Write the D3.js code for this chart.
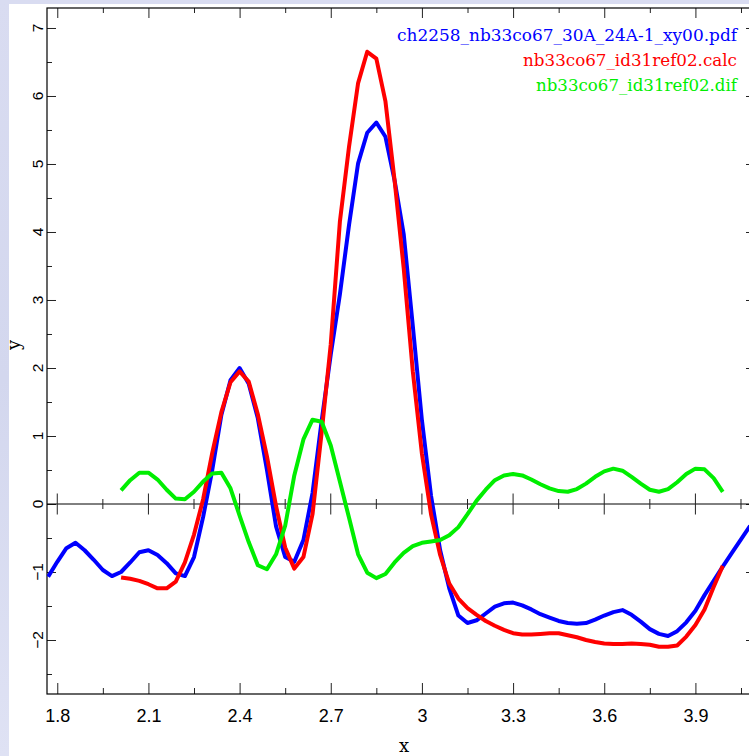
<!DOCTYPE html>
<html><head><meta charset="utf-8">
<script src="https://cdn.jsdelivr.net/npm/d3@7"></script>
<style>body{margin:0;background:#fff}svg{display:block}</style>
</head><body>
<script>
// ---- data ----
const xBlue = [1.77,1.80,1.83,1.86,1.89,1.92,1.95,1.98,2.01,2.04,2.07,2.10,2.13,2.16,2.19,2.22,2.25,2.28,2.31,2.34,2.37,2.40,2.43,2.46,2.49,2.52,2.55,2.58,2.61,2.64,2.67,2.70,2.73,2.76,2.79,2.82,2.85,2.88,2.91,2.94,2.97,3.00,3.03,3.06,3.09,3.12,3.15,3.18,3.21,3.24,3.27,3.30,3.33,3.36,3.39,3.42,3.45,3.48,3.51,3.54,3.57,3.60,3.63,3.66,3.69,3.72,3.75,3.78,3.81,3.84,3.87,3.90,3.93,3.96,3.99,4.02,4.05,4.08];
const yBlue = [-1.07,-0.85,-0.65,-0.57,-0.68,-0.82,-0.97,-1.06,-1.00,-0.86,-0.71,-0.68,-0.75,-0.87,-1.02,-1.06,-0.78,-0.19,0.50,1.31,1.82,2.00,1.77,1.26,0.50,-0.33,-0.78,-0.85,-0.53,0.16,1.22,2.20,3.08,4.10,5.01,5.46,5.61,5.40,4.76,3.97,2.62,1.23,0.12,-0.68,-1.24,-1.64,-1.75,-1.71,-1.61,-1.51,-1.46,-1.45,-1.49,-1.55,-1.62,-1.67,-1.72,-1.75,-1.76,-1.75,-1.70,-1.64,-1.59,-1.56,-1.63,-1.73,-1.84,-1.91,-1.94,-1.87,-1.74,-1.57,-1.34,-1.13,-0.92,-0.72,-0.52,-0.32];
const xCalc = [2.01,2.04,2.07,2.10,2.13,2.16,2.19,2.22,2.25,2.28,2.31,2.34,2.37,2.40,2.43,2.46,2.49,2.52,2.55,2.58,2.61,2.64,2.67,2.70,2.73,2.76,2.79,2.82,2.85,2.88,2.91,2.94,2.97,3.00,3.03,3.06,3.09,3.12,3.15,3.18,3.21,3.24,3.27,3.30,3.33,3.36,3.39,3.42,3.45,3.48,3.51,3.54,3.57,3.60,3.63,3.66,3.69,3.72,3.75,3.78,3.81,3.84,3.87,3.90,3.93,3.96,3.99];
const yCalc = [-1.08,-1.10,-1.13,-1.18,-1.24,-1.24,-1.14,-0.86,-0.45,0.07,0.75,1.35,1.79,1.95,1.80,1.32,0.70,-0.03,-0.64,-0.95,-0.78,-0.15,1.05,2.35,4.15,5.25,6.19,6.65,6.55,5.92,4.76,3.47,1.95,0.74,-0.15,-0.75,-1.17,-1.39,-1.53,-1.63,-1.72,-1.79,-1.85,-1.90,-1.92,-1.92,-1.91,-1.90,-1.90,-1.93,-1.96,-2.00,-2.03,-2.05,-2.06,-2.06,-2.05,-2.06,-2.07,-2.10,-2.10,-2.08,-1.95,-1.78,-1.55,-1.22,-0.91];
const yDif = [0.20,0.35,0.46,0.46,0.36,0.21,0.08,0.07,0.18,0.33,0.45,0.46,0.23,-0.17,-0.56,-0.90,-0.96,-0.74,-0.32,0.42,0.95,1.24,1.21,0.86,0.33,-0.20,-0.74,-1.01,-1.09,-1.03,-0.86,-0.72,-0.62,-0.57,-0.55,-0.53,-0.46,-0.34,-0.15,0.05,0.21,0.35,0.42,0.44,0.42,0.36,0.29,0.23,0.19,0.18,0.22,0.30,0.40,0.48,0.52,0.49,0.40,0.30,0.21,0.18,0.22,0.32,0.44,0.52,0.51,0.38,0.18];
const seriesNames = ["ch2258_nb33co67_30A_24A-1_xy00.pdf","nb33co67_id31ref02.calc","nb33co67_id31ref02.dif"];
const seriesColors = ["#0000ff","#ff0000","#00ee00"];
const xMajor = [1.8,2.1,2.4,2.7,3.0,3.3,3.6,3.9];
const xMinor = [1.95,2.25,2.55,2.85,3.15,3.45,3.75,4.05];
const yMajor = [-2,-1,0,1,2,3,4,5,6,7];
const yMinor = [-2.5,-1.5,-0.5,0.5,1.5,2.5,3.5,4.5,5.5,6.5];

// ---- layout ----
const W=749,H=756, L=47, R=755, T=8, B=694;
const x = d3.scaleLinear().domain([1.7662,4.0961]).range([L,R]);
const y = d3.scaleLinear().domain([-2.794,7.294]).range([B,T]);

const svg = d3.select("body").append("svg").attr("width",W).attr("height",H);
const defs = svg.append("defs");
const g = defs.append("linearGradient").attr("id","bg").attr("x1",0).attr("y1",0).attr("x2",0).attr("y2",1);
g.append("stop").attr("offset","0").attr("stop-color","#d9dcf1");
g.append("stop").attr("offset","0.5").attr("stop-color","#d3d7ee");
g.append("stop").attr("offset","1").attr("stop-color","#dfe2f4");
svg.append("rect").attr("width",W).attr("height",H).attr("fill","url(#bg)");
svg.append("rect").attr("x",9).attr("y",4).attr("width",W-9).attr("height",H-4).attr("fill","#fff");
defs.append("clipPath").attr("id","clip").append("rect").attr("x",L).attr("y",T).attr("width",R-L).attr("height",B-T);

const fmt = d => String(+d.toFixed(1));
const tickStyle = sel => { sel.select(".domain").remove(); sel.selectAll("line").attr("stroke","#222").attr("stroke-width",1); };

// bottom
svg.append("g").attr("transform",`translate(0,${B})`)
  .call(d3.axisBottom(x).tickValues(xMajor).tickSize(-11).tickPadding(15).tickFormat(fmt))
  .call(tickStyle)
  .call(s=>s.selectAll("text").attr("font-family","Liberation Sans, Arial, sans-serif").attr("font-size",18).attr("fill","#000"));
svg.append("g").attr("transform",`translate(0,${B})`)
  .call(d3.axisBottom(x).tickValues(xMinor).tickSize(-6).tickFormat(""))
  .call(tickStyle);
// top
svg.append("g").attr("transform",`translate(0,${T})`)
  .call(d3.axisTop(x).tickValues(xMajor).tickSize(-10).tickFormat("")).call(tickStyle);
svg.append("g").attr("transform",`translate(0,${T})`)
  .call(d3.axisTop(x).tickValues(xMinor).tickSize(-5).tickFormat("")).call(tickStyle);
// left
svg.append("g").attr("transform",`translate(${L},0)`)
  .call(d3.axisLeft(y).tickValues(yMajor).tickSize(-9).tickFormat("")).call(tickStyle);
svg.append("g").attr("transform",`translate(${L},0)`)
  .call(d3.axisLeft(y).tickValues(yMinor).tickSize(-5).tickFormat("")).call(tickStyle);
// right
svg.append("g").attr("transform",`translate(${R},0)`)
  .call(d3.axisRight(y).tickValues(yMajor).tickSize(-9).tickFormat("")).call(tickStyle);
svg.append("g").attr("transform",`translate(${R},0)`)
  .call(d3.axisRight(y).tickValues(yMinor).tickSize(-5).tickFormat("")).call(tickStyle);
// zero line with crossing ticks
const zl = svg.append("g");
zl.append("line").attr("x1",L).attr("x2",R).attr("y1",y(0)).attr("y2",y(0)).attr("stroke","#000");
zl.selectAll(".zmaj").data(xMajor).join("line").attr("x1",d=>x(d)).attr("x2",d=>x(d))
  .attr("y1",y(0)-10.5).attr("y2",y(0)+10.5).attr("stroke","#222");
zl.selectAll(".zmin").data(xMinor).join("line").attr("x1",d=>x(d)).attr("x2",d=>x(d))
  .attr("y1",y(0)-5).attr("y2",y(0)+5).attr("stroke","#222");

// y tick labels rotated
svg.append("g").selectAll("text").data(yMajor).join("text")
  .attr("transform",d=>`translate(42.5,${y(d)}) rotate(-90)`)
  .attr("text-anchor","middle").attr("font-family","Liberation Sans, Arial, sans-serif")
  .attr("font-size",15.5).text(d=> d<0 ? "\u2212"+Math.abs(d) : String(d));

// frame
svg.append("rect").attr("x",L).attr("y",T).attr("width",R-L).attr("height",B-T)
  .attr("fill","none").attr("stroke","#000").attr("stroke-width",1.2);

// axis labels
svg.append("text").attr("x",404).attr("y",752).attr("text-anchor","middle")
  .attr("font-family","DejaVu Serif, serif").attr("font-size",18).text("x");
svg.append("text").attr("transform","translate(20,345) rotate(-90)").attr("text-anchor","middle")
  .attr("font-family","DejaVu Serif, serif").attr("font-size",18).text("y");

// curves
const line = d3.line().x(d=>x(d[0])).y(d=>y(d[1]));
const data = [d3.zip(xBlue,yBlue), d3.zip(xCalc,yCalc), d3.zip(xCalc,yDif)];
svg.append("g").attr("clip-path","url(#clip)").selectAll("path").data(data).join("path")
  .attr("d",line).attr("fill","none").attr("stroke",(d,i)=>seriesColors[i])
  .attr("stroke-width",4).attr("stroke-linejoin","round");

// legend
const legLen = [340,214,201];
svg.append("g").selectAll("text").data(seriesNames).join("text")
  .attr("x",737).attr("y",(d,i)=>41+i*25).attr("text-anchor","end")
  .attr("font-family","DejaVu Serif, serif").attr("font-size",17)
  .attr("fill",(d,i)=>seriesColors[i])
  .attr("textLength",(d,i)=>legLen[i]).attr("lengthAdjust","spacingAndGlyphs")
  .text(d=>d);
</script>
</body></html>
